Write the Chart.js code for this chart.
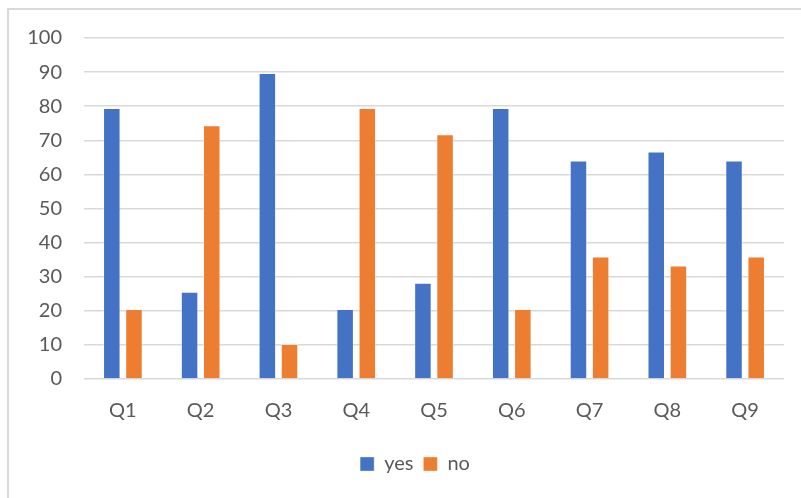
<!DOCTYPE html>
<html>
<head>
<meta charset="utf-8">
<script src="https://cdn.jsdelivr.net/npm/chart.js@4.4.0/dist/chart.umd.min.js"></script>
<style>
    html, body { margin: 0; padding: 0; background: #fff; }
    body { width: 801px; height: 498px; position: relative; overflow: hidden; }
    .frame {
        position: absolute; left: 7px; top: 8px; width: 820px; height: 520px;
        border-left: 2px solid #d9d9d9; border-top: 2px solid #d9d9d9;
    }
    #chart { position: absolute; left: 0; top: 0; }
</style>
</head>
<body>
<div class="frame"></div>
<canvas id="chart" width="801" height="498"></canvas>
<script>
const categories = ['Q1', 'Q2', 'Q3', 'Q4', 'Q5', 'Q6', 'Q7', 'Q8', 'Q9'];
const yesValues = [79.5, 25.6, 89.7, 20.5, 28.2, 79.5, 64.1, 66.7, 64.1];
const noValues = [20.5, 74.4, 10.3, 79.5, 71.8, 20.5, 35.9, 33.3, 35.9];
const yTicks = [0, 10, 20, 30, 40, 50, 60, 70, 80, 90, 100];

const labelFont = { family: 'Lato, "Open Sans", sans-serif', size: 20 };
const labelColor = '#595959';

// legend sits a bit right of centre in the original
const legendShift = {
    id: 'legendShift',
    afterLayout(chart) {
        chart.legend.left += 23;
        chart.legend.right += 23;
    }
};

const ctx = document.getElementById('chart').getContext('2d');
new Chart(ctx, {
    type: 'bar',
    data: {
        labels: categories,
        datasets: [{
            label: 'yes',
            data: yesValues,
            backgroundColor: '#4472C4',
            borderColor: 'rgba(255, 255, 255, 0.35)',
            borderWidth: 1
        }, {
            label: 'no',
            data: noValues,
            backgroundColor: '#ED7D31',
            borderColor: 'rgba(255, 255, 255, 0.35)',
            borderWidth: 1
        }]
    },
    options: {
        responsive: false,
        animation: false,
        categoryPercentage: 0.57,
        barPercentage: 0.79,
        layout: {
            padding: { top: 38, right: 17, bottom: 14, left: 0 }
        },
        plugins: {
            legend: {
                position: 'bottom',
                labels: {
                    boxWidth: 14,
                    boxHeight: 14,
                    padding: 10,
                    color: labelColor,
                    font: labelFont
                }
            },
            tooltip: { enabled: false }
        },
        scales: {
            x: {
                grid: { display: false },
                border: { display: false },
                ticks: {
                    color: labelColor,
                    font: labelFont,
                    padding: 12
                },
                afterFit: (scale) => { scale.height = 65; }
            },
            y: {
                min: 0,
                max: 100,
                afterBuildTicks: (scale) => {
                    scale.ticks = yTicks.map(v => ({ value: v }));
                },
                grid: {
                    color: '#d9d9d9',
                    lineWidth: 1.5,
                    drawTicks: false
                },
                border: { display: false },
                ticks: {
                    color: labelColor,
                    font: labelFont,
                    padding: 22
                },
                afterFit: (scale) => { scale.width = 84; }
            }
        }
    },
    plugins: [legendShift]
});
</script>
</body>
</html>
